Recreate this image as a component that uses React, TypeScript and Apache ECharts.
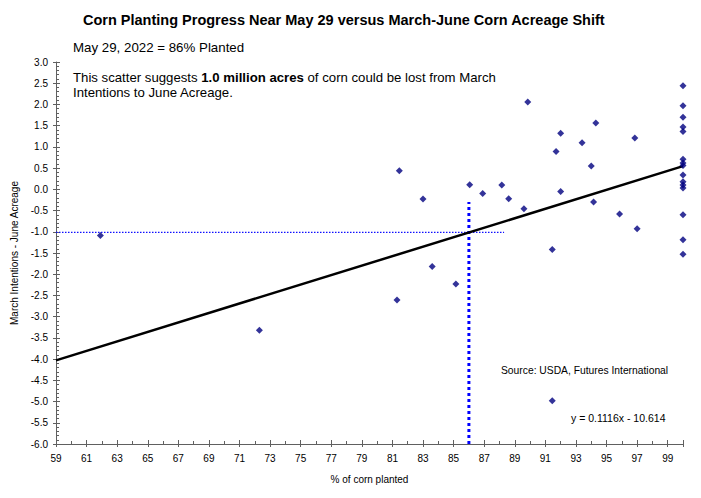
import React, { useEffect, useRef } from "react";
import * as echarts from "echarts";

const pctPlanted = [61.9, 72.3, 81.3, 81.45, 83.0, 83.6, 85.15, 86.05, 86.9, 88.15, 88.6, 89.6, 89.85, 91.45, 91.7, 92.0, 92.0, 91.45, 93.4, 94.3, 94.0, 94.15, 95.85, 96.85, 97.0,
  100, 100, 100, 100, 100, 100, 100, 100, 100, 100, 100, 100, 100, 100, 100];
const acreShift = [-1.09, -3.32, -2.61, 0.44, -0.23, -1.82, -2.23, 0.11, -0.1, 0.1, -0.22, -0.46, 2.06, -1.42, 0.89, 1.32, -0.05, -4.98, 1.1, 1.56, 0.55, -0.3, -0.58, 1.21, -0.93,
  2.44, 1.97, 1.7, 1.47, 1.36, 0.71, 0.62, 0.56, 0.34, 0.18, 0.1, 0.03, -0.6, -1.19, -1.53];

const slope = 0.1116;
const intercept = -10.614;
const currentPct = 86;
const hRefEndX = 88.3;
const vRefTopY = -0.3;

const xMin = 59, xMax = 100, xStep = 2;
const yMin = -6, yMax = 3, yStep = 0.5;

const FONT = "'Liberation Sans', Arial, sans-serif";

export default function App() {
  const ref = useRef<HTMLDivElement>(null);
  useEffect(() => {
    document.body.style.margin = "0";
    if (!ref.current) return;
    const chart = echarts.init(ref.current, undefined, { renderer: "svg" });
    const points = pctPlanted.map((x, i) => [x, acreShift[i]]);
    const fit = (x: number) => slope * x + intercept;
    const yAtCurrent = fit(currentPct);
    const axisCommon = {
      type: "value" as const,
      axisLine: { onZero: false },
      splitLine: { show: false },
    };
    chart.setOption({
      animation: false,
      backgroundColor: "#ffffff",
      textStyle: { fontFamily: FONT },
      grid: { left: 56, right: 18, top: 62, bottom: 54 },
      xAxis: [
        {
          ...axisCommon,
          min: xMin, max: xMax, interval: xStep,
          name: "% of corn planted",
          nameLocation: "middle",
          nameGap: 30,
          nameTextStyle: { fontSize: 10, color: "#000", fontFamily: FONT },
          axisLine: { show: true, onZero: false, lineStyle: { color: "#606060", width: 1 } },
          axisTick: { show: true, inside: true, length: 4, lineStyle: { color: "#606060" } },
          minorTick: { show: true, splitNumber: 2, length: 3, lineStyle: { color: "#606060" } },
          axisLabel: { fontSize: 10, color: "#000", margin: 9, showMaxLabel: false, fontFamily: FONT },
        },
        {
          ...axisCommon,
          min: xMin, max: xMax, interval: xStep,
          position: "bottom",
          axisLine: { show: false, onZero: false },
          axisTick: { show: true, inside: false, length: 3, lineStyle: { color: "#606060" } },
          axisLabel: { show: false },
        },
      ],
      yAxis: [
        {
          ...axisCommon,
          min: yMin, max: yMax, interval: yStep,
          name: "March Intentions - June Acreage",
          nameLocation: "middle",
          nameGap: 33,
          nameTextStyle: { fontSize: 10, color: "#000", fontFamily: FONT },
          axisLine: { show: true, onZero: false, lineStyle: { color: "#606060", width: 1 } },
          axisTick: { show: true, inside: true, length: 4, lineStyle: { color: "#606060" } },
          minorTick: { show: true, splitNumber: 5, length: 3, lineStyle: { color: "#606060" } },
          axisLabel: { fontSize: 10, color: "#000", margin: 8, formatter: (v: number) => v.toFixed(1), fontFamily: FONT },
        },
        {
          ...axisCommon,
          min: yMin, max: yMax, interval: yStep,
          position: "left",
          axisLine: { show: false, onZero: false },
          axisTick: { show: true, inside: false, length: 3, lineStyle: { color: "#606060" } },
          axisLabel: { show: false },
        },
      ],
      series: [
        {
          type: "line",
          data: [[xMin, yAtCurrent], [hRefEndX, yAtCurrent]],
          symbol: "none",
          lineStyle: { color: "#1010ff", width: 1.3, type: [1.5, 1.5] },
          z: 1,
        },
        {
          type: "line",
          data: [[currentPct, yMin], [currentPct, vRefTopY]],
          symbol: "none",
          lineStyle: { color: "#0000ff", width: 3, type: [3, 3] },
          z: 1,
        },
        {
          type: "line",
          data: [[xMin, fit(xMin)], [xMax, fit(xMax)]],
          symbol: "none",
          lineStyle: { color: "#000000", width: 2.5 },
          z: 2,
        },
        {
          type: "scatter",
          data: points,
          symbol: "diamond",
          symbolSize: 7,
          itemStyle: { color: "#000080" },
          z: 3,
        },
      ],
      graphic: [
        {
          type: "text", left: 83, top: 12,
          style: { text: "Corn Planting Progress Near May 29 versus March-June Corn Acreage Shift", font: `bold 14.5px ${FONT}`, fill: "#000" },
        },
        {
          type: "text", left: 73, top: 41,
          style: { text: "May 29, 2022 = 86% Planted", font: `13.3px ${FONT}`, fill: "#000" },
        },
        {
          type: "text", left: 73, top: 71,
          style: {
            text: "{a|This scatter suggests }{b|1.0 million acres}{a| of corn could be lost from March}\n{a|Intentions to June Acreage.}",
            rich: {
              a: { font: `13.2px ${FONT}`, fill: "#000", lineHeight: 15 },
              b: { font: `bold 13.2px ${FONT}`, fill: "#000", lineHeight: 15 },
            },
          },
        },
        {
          type: "text", left: 501, top: 365,
          style: { text: "Source: USDA, Futures International", font: `10.3px ${FONT}`, fill: "#000" },
        },
        {
          type: "text", left: 571, top: 412,
          style: { text: "y = 0.1116x - 10.614", font: `10.5px ${FONT}`, fill: "#000" },
        },
      ],
    });
    return () => chart.dispose();
  }, []);
  return <div ref={ref} style={{ width: 701, height: 498 }} />;
}
